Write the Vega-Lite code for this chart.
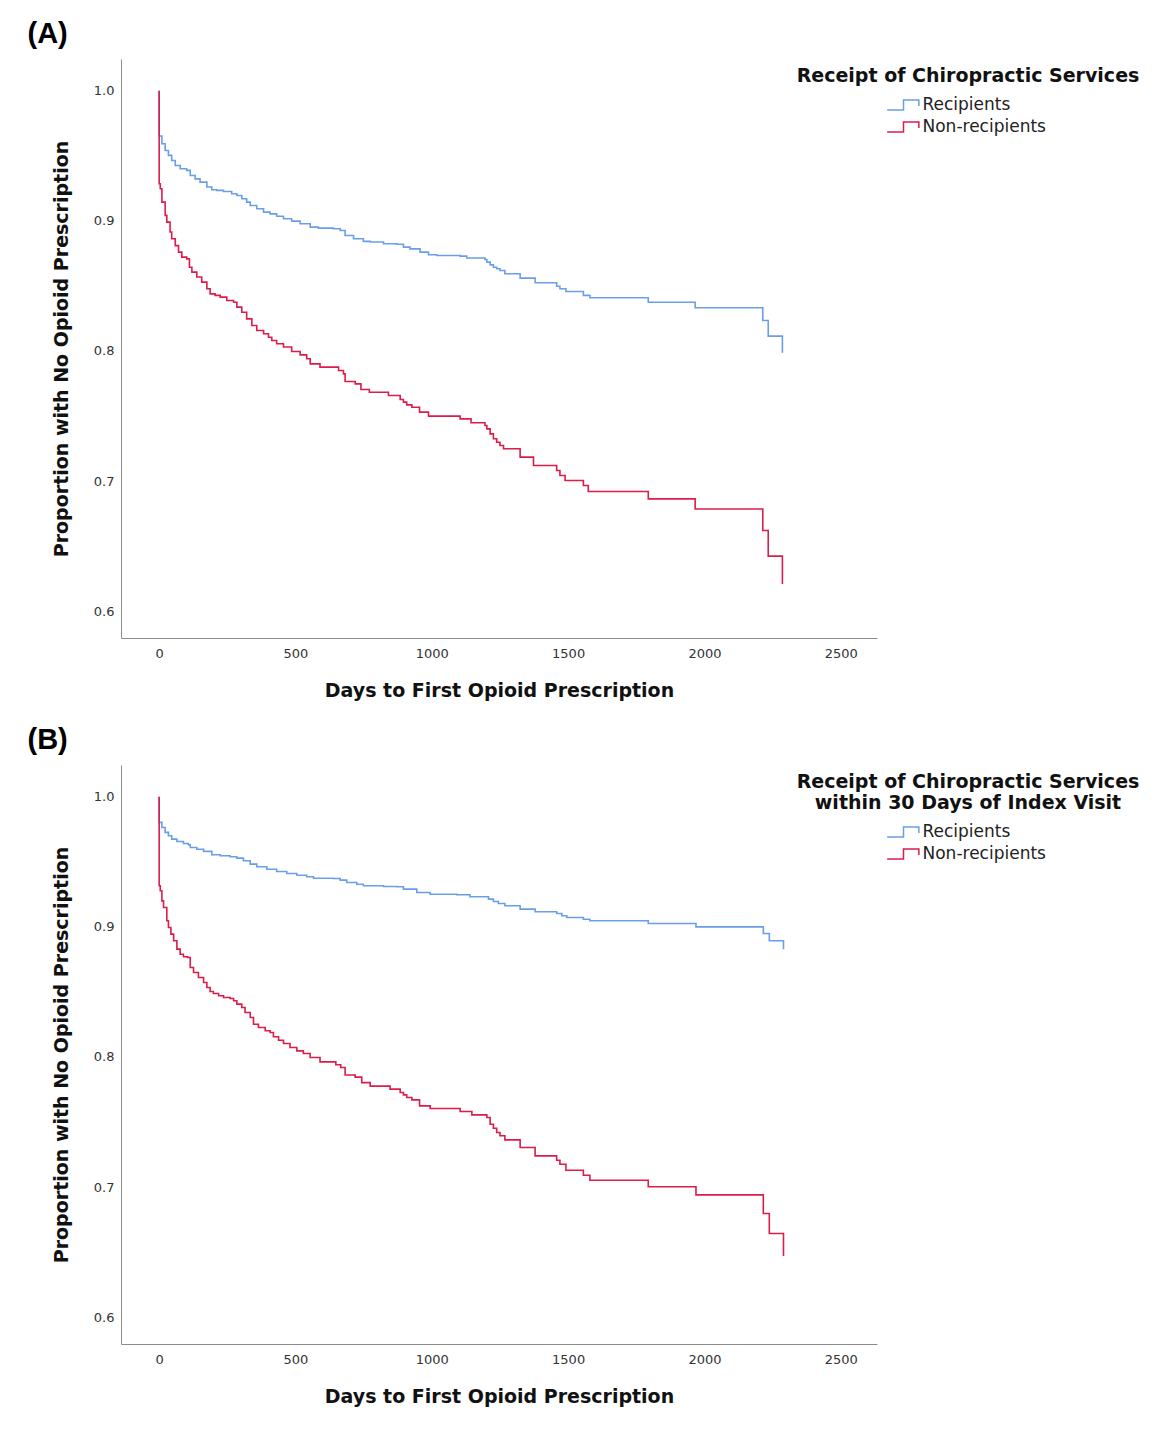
{
  "$schema": "https://vega.github.io/schema/vega-lite/v6.json",
  "padding": {"left": 27, "top": 20, "right": 5, "bottom": 5},
  "background": "white",
  "spacing": 26,
  "resolve": {"scale": {"color": "independent", "x": "independent", "y": "independent"}, "legend": {"color": "independent"}},
  "config": {
    "view": {"stroke": null},
    "font": "DejaVu Sans",
    "axis": {"domainColor": "#8c8c8c", "domainWidth": 1, "grid": false, "ticks": false, "labelFont": "DejaVu Sans", "labelFontSize": 13, "labelColor": "#333333", "titleFont": "DejaVu Sans", "titleFontSize": 19, "titleFontWeight": "bold", "titleColor": "#111111"},
    "legend": {"titleFont": "DejaVu Sans", "titleFontSize": 19, "titleFontWeight": "bold", "titleColor": "#111111", "titleAnchor": "middle", "titleAlign": "center", "titlePadding": 8, "titleLineHeight": 21, "titleLimit": 600, "labelFont": "DejaVu Sans", "labelFontSize": 17, "labelColor": "#222222", "labelLimit": 400, "symbolType": "M-1.585,0.5L0.05,0.5L0.05,-0.5L1.585,-0.5L1.585,0.1", "symbolSize": 400, "symbolStrokeWidth": 1.5, "symbolFillColor": "transparent", "symbolOffset": 1, "labelOffset": 8.5, "rowPadding": 3, "padding": 0, "offset": 0},
    "title": {"font": "Liberation Sans", "fontSize": 29, "fontWeight": "bold", "anchor": "start", "frame": "group", "dx": -93.5, "offset": 10, "color": "#000000"}
  },
  "datasets": {
    "a": [
      {"group": "Recipients", "day": 0, "p": 1.0},
      {"group": "Recipients", "day": 0, "p": 0.9652},
      {"group": "Recipients", "day": 10, "p": 0.9593},
      {"group": "Recipients", "day": 22, "p": 0.9541},
      {"group": "Recipients", "day": 34, "p": 0.9503},
      {"group": "Recipients", "day": 46, "p": 0.9464},
      {"group": "Recipients", "day": 59, "p": 0.9426},
      {"group": "Recipients", "day": 77, "p": 0.94},
      {"group": "Recipients", "day": 101, "p": 0.9388},
      {"group": "Recipients", "day": 114, "p": 0.9349},
      {"group": "Recipients", "day": 132, "p": 0.9323},
      {"group": "Recipients", "day": 150, "p": 0.9298},
      {"group": "Recipients", "day": 175, "p": 0.926},
      {"group": "Recipients", "day": 193, "p": 0.9239},
      {"group": "Recipients", "day": 211, "p": 0.9234},
      {"group": "Recipients", "day": 236, "p": 0.9226},
      {"group": "Recipients", "day": 266, "p": 0.9208},
      {"group": "Recipients", "day": 285, "p": 0.9195},
      {"group": "Recipients", "day": 303, "p": 0.917},
      {"group": "Recipients", "day": 321, "p": 0.9144},
      {"group": "Recipients", "day": 334, "p": 0.9118},
      {"group": "Recipients", "day": 358, "p": 0.9093},
      {"group": "Recipients", "day": 383, "p": 0.9067},
      {"group": "Recipients", "day": 407, "p": 0.9054},
      {"group": "Recipients", "day": 431, "p": 0.9036},
      {"group": "Recipients", "day": 456, "p": 0.9016},
      {"group": "Recipients", "day": 486, "p": 0.8998},
      {"group": "Recipients", "day": 517, "p": 0.8978},
      {"group": "Recipients", "day": 554, "p": 0.8952},
      {"group": "Recipients", "day": 584, "p": 0.8944},
      {"group": "Recipients", "day": 639, "p": 0.8939},
      {"group": "Recipients", "day": 664, "p": 0.8926},
      {"group": "Recipients", "day": 682, "p": 0.8888},
      {"group": "Recipients", "day": 713, "p": 0.8862},
      {"group": "Recipients", "day": 749, "p": 0.8842},
      {"group": "Recipients", "day": 774, "p": 0.8837},
      {"group": "Recipients", "day": 823, "p": 0.8824},
      {"group": "Recipients", "day": 872, "p": 0.882},
      {"group": "Recipients", "day": 896, "p": 0.8798},
      {"group": "Recipients", "day": 920, "p": 0.8785},
      {"group": "Recipients", "day": 957, "p": 0.876},
      {"group": "Recipients", "day": 988, "p": 0.8739},
      {"group": "Recipients", "day": 1018, "p": 0.8734},
      {"group": "Recipients", "day": 1104, "p": 0.8729},
      {"group": "Recipients", "day": 1128, "p": 0.8714},
      {"group": "Recipients", "day": 1195, "p": 0.8703},
      {"group": "Recipients", "day": 1202, "p": 0.8683},
      {"group": "Recipients", "day": 1214, "p": 0.8662},
      {"group": "Recipients", "day": 1226, "p": 0.8644},
      {"group": "Recipients", "day": 1238, "p": 0.8632},
      {"group": "Recipients", "day": 1250, "p": 0.8619},
      {"group": "Recipients", "day": 1268, "p": 0.8593},
      {"group": "Recipients", "day": 1324, "p": 0.856},
      {"group": "Recipients", "day": 1379, "p": 0.8524},
      {"group": "Recipients", "day": 1458, "p": 0.8498},
      {"group": "Recipients", "day": 1470, "p": 0.8478},
      {"group": "Recipients", "day": 1492, "p": 0.8457},
      {"group": "Recipients", "day": 1556, "p": 0.8427},
      {"group": "Recipients", "day": 1580, "p": 0.8409},
      {"group": "Recipients", "day": 1794, "p": 0.8375},
      {"group": "Recipients", "day": 1966, "p": 0.8332},
      {"group": "Recipients", "day": 2214, "p": 0.8234},
      {"group": "Recipients", "day": 2234, "p": 0.8114},
      {"group": "Recipients", "day": 2286, "p": 0.7986},
      {"group": "Non-recipients", "day": 0, "p": 1.0},
      {"group": "Non-recipients", "day": 0, "p": 0.9285},
      {"group": "Non-recipients", "day": 4, "p": 0.9247},
      {"group": "Non-recipients", "day": 10, "p": 0.9144},
      {"group": "Non-recipients", "day": 22, "p": 0.9042},
      {"group": "Non-recipients", "day": 28, "p": 0.899},
      {"group": "Non-recipients", "day": 40, "p": 0.8914},
      {"group": "Non-recipients", "day": 46, "p": 0.8862},
      {"group": "Non-recipients", "day": 59, "p": 0.881},
      {"group": "Non-recipients", "day": 71, "p": 0.876},
      {"group": "Non-recipients", "day": 83, "p": 0.8721},
      {"group": "Non-recipients", "day": 101, "p": 0.8708},
      {"group": "Non-recipients", "day": 111, "p": 0.8644},
      {"group": "Non-recipients", "day": 120, "p": 0.8606},
      {"group": "Non-recipients", "day": 138, "p": 0.8568},
      {"group": "Non-recipients", "day": 156, "p": 0.8529},
      {"group": "Non-recipients", "day": 175, "p": 0.8478},
      {"group": "Non-recipients", "day": 187, "p": 0.8439},
      {"group": "Non-recipients", "day": 205, "p": 0.8427},
      {"group": "Non-recipients", "day": 224, "p": 0.8414},
      {"group": "Non-recipients", "day": 248, "p": 0.8388},
      {"group": "Non-recipients", "day": 273, "p": 0.8375},
      {"group": "Non-recipients", "day": 285, "p": 0.8337},
      {"group": "Non-recipients", "day": 303, "p": 0.8298},
      {"group": "Non-recipients", "day": 321, "p": 0.8247},
      {"group": "Non-recipients", "day": 340, "p": 0.8196},
      {"group": "Non-recipients", "day": 358, "p": 0.8157},
      {"group": "Non-recipients", "day": 383, "p": 0.8132},
      {"group": "Non-recipients", "day": 401, "p": 0.8106},
      {"group": "Non-recipients", "day": 413, "p": 0.8081},
      {"group": "Non-recipients", "day": 431, "p": 0.8055},
      {"group": "Non-recipients", "day": 456, "p": 0.803},
      {"group": "Non-recipients", "day": 486, "p": 0.7996},
      {"group": "Non-recipients", "day": 517, "p": 0.797},
      {"group": "Non-recipients", "day": 541, "p": 0.794},
      {"group": "Non-recipients", "day": 554, "p": 0.7901},
      {"group": "Non-recipients", "day": 590, "p": 0.7876},
      {"group": "Non-recipients", "day": 658, "p": 0.785},
      {"group": "Non-recipients", "day": 676, "p": 0.7824},
      {"group": "Non-recipients", "day": 682, "p": 0.7765},
      {"group": "Non-recipients", "day": 719, "p": 0.7747},
      {"group": "Non-recipients", "day": 740, "p": 0.7704},
      {"group": "Non-recipients", "day": 771, "p": 0.7683},
      {"group": "Non-recipients", "day": 841, "p": 0.7658},
      {"group": "Non-recipients", "day": 884, "p": 0.7627},
      {"group": "Non-recipients", "day": 896, "p": 0.7607},
      {"group": "Non-recipients", "day": 908, "p": 0.7586},
      {"group": "Non-recipients", "day": 927, "p": 0.7568},
      {"group": "Non-recipients", "day": 955, "p": 0.753},
      {"group": "Non-recipients", "day": 988, "p": 0.7499},
      {"group": "Non-recipients", "day": 1104, "p": 0.7478},
      {"group": "Non-recipients", "day": 1144, "p": 0.7448},
      {"group": "Non-recipients", "day": 1195, "p": 0.7427},
      {"group": "Non-recipients", "day": 1202, "p": 0.7401},
      {"group": "Non-recipients", "day": 1214, "p": 0.7363},
      {"group": "Non-recipients", "day": 1226, "p": 0.7325},
      {"group": "Non-recipients", "day": 1238, "p": 0.7299},
      {"group": "Non-recipients", "day": 1250, "p": 0.7273},
      {"group": "Non-recipients", "day": 1263, "p": 0.7248},
      {"group": "Non-recipients", "day": 1324, "p": 0.7184},
      {"group": "Non-recipients", "day": 1373, "p": 0.712},
      {"group": "Non-recipients", "day": 1458, "p": 0.7081},
      {"group": "Non-recipients", "day": 1470, "p": 0.7043},
      {"group": "Non-recipients", "day": 1489, "p": 0.7004},
      {"group": "Non-recipients", "day": 1556, "p": 0.6966},
      {"group": "Non-recipients", "day": 1574, "p": 0.692},
      {"group": "Non-recipients", "day": 1794, "p": 0.6863},
      {"group": "Non-recipients", "day": 1966, "p": 0.6786},
      {"group": "Non-recipients", "day": 2214, "p": 0.662},
      {"group": "Non-recipients", "day": 2234, "p": 0.6423},
      {"group": "Non-recipients", "day": 2286, "p": 0.6209}
    ],
    "b": [
      {"group": "Recipients", "day": 0, "p": 1.0},
      {"group": "Recipients", "day": 0, "p": 0.9803},
      {"group": "Recipients", "day": 10, "p": 0.9764},
      {"group": "Recipients", "day": 22, "p": 0.9726},
      {"group": "Recipients", "day": 34, "p": 0.97},
      {"group": "Recipients", "day": 46, "p": 0.9674},
      {"group": "Recipients", "day": 65, "p": 0.9656},
      {"group": "Recipients", "day": 89, "p": 0.9641},
      {"group": "Recipients", "day": 107, "p": 0.9631},
      {"group": "Recipients", "day": 114, "p": 0.961},
      {"group": "Recipients", "day": 138, "p": 0.9597},
      {"group": "Recipients", "day": 163, "p": 0.958},
      {"group": "Recipients", "day": 193, "p": 0.9554},
      {"group": "Recipients", "day": 224, "p": 0.9546},
      {"group": "Recipients", "day": 260, "p": 0.9539},
      {"group": "Recipients", "day": 285, "p": 0.9528},
      {"group": "Recipients", "day": 309, "p": 0.9508},
      {"group": "Recipients", "day": 334, "p": 0.9482},
      {"group": "Recipients", "day": 358, "p": 0.9462},
      {"group": "Recipients", "day": 395, "p": 0.9443},
      {"group": "Recipients", "day": 431, "p": 0.9426},
      {"group": "Recipients", "day": 468, "p": 0.941},
      {"group": "Recipients", "day": 505, "p": 0.9397},
      {"group": "Recipients", "day": 541, "p": 0.9385},
      {"group": "Recipients", "day": 566, "p": 0.9374},
      {"group": "Recipients", "day": 639, "p": 0.9372},
      {"group": "Recipients", "day": 664, "p": 0.9359},
      {"group": "Recipients", "day": 688, "p": 0.9341},
      {"group": "Recipients", "day": 725, "p": 0.9328},
      {"group": "Recipients", "day": 749, "p": 0.9316},
      {"group": "Recipients", "day": 823, "p": 0.931},
      {"group": "Recipients", "day": 872, "p": 0.9308},
      {"group": "Recipients", "day": 896, "p": 0.929},
      {"group": "Recipients", "day": 945, "p": 0.9264},
      {"group": "Recipients", "day": 994, "p": 0.9251},
      {"group": "Recipients", "day": 1092, "p": 0.9247},
      {"group": "Recipients", "day": 1140, "p": 0.9231},
      {"group": "Recipients", "day": 1208, "p": 0.9213},
      {"group": "Recipients", "day": 1226, "p": 0.9195},
      {"group": "Recipients", "day": 1244, "p": 0.918},
      {"group": "Recipients", "day": 1268, "p": 0.9162},
      {"group": "Recipients", "day": 1324, "p": 0.9136},
      {"group": "Recipients", "day": 1379, "p": 0.9116},
      {"group": "Recipients", "day": 1458, "p": 0.9103},
      {"group": "Recipients", "day": 1477, "p": 0.9085},
      {"group": "Recipients", "day": 1495, "p": 0.9072},
      {"group": "Recipients", "day": 1556, "p": 0.9059},
      {"group": "Recipients", "day": 1580, "p": 0.9047},
      {"group": "Recipients", "day": 1794, "p": 0.9026},
      {"group": "Recipients", "day": 1969, "p": 0.9},
      {"group": "Recipients", "day": 2216, "p": 0.8949},
      {"group": "Recipients", "day": 2238, "p": 0.8893},
      {"group": "Recipients", "day": 2290, "p": 0.8828},
      {"group": "Non-recipients", "day": 0, "p": 1.0},
      {"group": "Non-recipients", "day": 0, "p": 0.9316},
      {"group": "Non-recipients", "day": 4, "p": 0.9277},
      {"group": "Non-recipients", "day": 10, "p": 0.92},
      {"group": "Non-recipients", "day": 16, "p": 0.9149},
      {"group": "Non-recipients", "day": 28, "p": 0.9047},
      {"group": "Non-recipients", "day": 34, "p": 0.8995},
      {"group": "Non-recipients", "day": 43, "p": 0.8944},
      {"group": "Non-recipients", "day": 53, "p": 0.8893},
      {"group": "Non-recipients", "day": 65, "p": 0.8829},
      {"group": "Non-recipients", "day": 77, "p": 0.879},
      {"group": "Non-recipients", "day": 89, "p": 0.877},
      {"group": "Non-recipients", "day": 104, "p": 0.8765},
      {"group": "Non-recipients", "day": 114, "p": 0.8688},
      {"group": "Non-recipients", "day": 126, "p": 0.8649},
      {"group": "Non-recipients", "day": 144, "p": 0.8611},
      {"group": "Non-recipients", "day": 163, "p": 0.8572},
      {"group": "Non-recipients", "day": 175, "p": 0.8534},
      {"group": "Non-recipients", "day": 187, "p": 0.8503},
      {"group": "Non-recipients", "day": 199, "p": 0.8488},
      {"group": "Non-recipients", "day": 218, "p": 0.847},
      {"group": "Non-recipients", "day": 236, "p": 0.8457},
      {"group": "Non-recipients", "day": 260, "p": 0.8449},
      {"group": "Non-recipients", "day": 273, "p": 0.8432},
      {"group": "Non-recipients", "day": 285, "p": 0.8406},
      {"group": "Non-recipients", "day": 303, "p": 0.838},
      {"group": "Non-recipients", "day": 315, "p": 0.8342},
      {"group": "Non-recipients", "day": 334, "p": 0.8303},
      {"group": "Non-recipients", "day": 346, "p": 0.8252},
      {"group": "Non-recipients", "day": 364, "p": 0.8226},
      {"group": "Non-recipients", "day": 389, "p": 0.8201},
      {"group": "Non-recipients", "day": 407, "p": 0.8188},
      {"group": "Non-recipients", "day": 419, "p": 0.8155},
      {"group": "Non-recipients", "day": 438, "p": 0.8129},
      {"group": "Non-recipients", "day": 456, "p": 0.8103},
      {"group": "Non-recipients", "day": 480, "p": 0.8073},
      {"group": "Non-recipients", "day": 505, "p": 0.8047},
      {"group": "Non-recipients", "day": 529, "p": 0.8027},
      {"group": "Non-recipients", "day": 554, "p": 0.7996},
      {"group": "Non-recipients", "day": 590, "p": 0.7962},
      {"group": "Non-recipients", "day": 648, "p": 0.794},
      {"group": "Non-recipients", "day": 666, "p": 0.7919},
      {"group": "Non-recipients", "day": 682, "p": 0.7862},
      {"group": "Non-recipients", "day": 719, "p": 0.7845},
      {"group": "Non-recipients", "day": 743, "p": 0.7803},
      {"group": "Non-recipients", "day": 774, "p": 0.7776},
      {"group": "Non-recipients", "day": 847, "p": 0.7753},
      {"group": "Non-recipients", "day": 884, "p": 0.7727},
      {"group": "Non-recipients", "day": 896, "p": 0.7709},
      {"group": "Non-recipients", "day": 908, "p": 0.7688},
      {"group": "Non-recipients", "day": 927, "p": 0.767},
      {"group": "Non-recipients", "day": 955, "p": 0.7624},
      {"group": "Non-recipients", "day": 994, "p": 0.7604},
      {"group": "Non-recipients", "day": 1104, "p": 0.7581},
      {"group": "Non-recipients", "day": 1147, "p": 0.7555},
      {"group": "Non-recipients", "day": 1202, "p": 0.7535},
      {"group": "Non-recipients", "day": 1214, "p": 0.7483},
      {"group": "Non-recipients", "day": 1226, "p": 0.7452},
      {"group": "Non-recipients", "day": 1238, "p": 0.7419},
      {"group": "Non-recipients", "day": 1250, "p": 0.7394},
      {"group": "Non-recipients", "day": 1268, "p": 0.7363},
      {"group": "Non-recipients", "day": 1324, "p": 0.7304},
      {"group": "Non-recipients", "day": 1379, "p": 0.724},
      {"group": "Non-recipients", "day": 1458, "p": 0.7206},
      {"group": "Non-recipients", "day": 1470, "p": 0.7175},
      {"group": "Non-recipients", "day": 1492, "p": 0.7129},
      {"group": "Non-recipients", "day": 1556, "p": 0.7091},
      {"group": "Non-recipients", "day": 1580, "p": 0.7052},
      {"group": "Non-recipients", "day": 1794, "p": 0.7002},
      {"group": "Non-recipients", "day": 1969, "p": 0.694},
      {"group": "Non-recipients", "day": 2216, "p": 0.6797},
      {"group": "Non-recipients", "day": 2238, "p": 0.6643},
      {"group": "Non-recipients", "day": 2290, "p": 0.6471}
    ]
  },
  "vconcat": [
    {
      "title": {"text": "(A)"},
      "width": 756,
      "height": 579,
      "data": {"name": "a"},
      "encoding": {
        "x": {"field": "day", "type": "quantitative", "scale": {"domain": [-140, 2633], "nice": false, "zero": false}, "axis": {"values": [0, 500, 1000, 1500, 2000, 2500], "format": "d", "title": "Days to First Opioid Prescription", "labelPadding": 9, "titlePadding": 21}},
        "y": {"field": "p", "type": "quantitative", "scale": {"domain": [0.5794, 1.0244], "nice": false, "zero": false}, "axis": {"values": [0.6, 0.7, 0.8, 0.9, 1.0], "format": ".1f", "title": "Proportion with No Opioid Prescription", "labelPadding": 7, "titlePadding": 22}},
        "color": {"field": "group", "type": "nominal", "scale": {"domain": ["Recipients", "Non-recipients"], "range": ["#6a9fe8", "#dc1c4a"]}, "legend": {"title": "Receipt of Chiropractic Services", "orient": "none", "legendX": 676, "legendY": 8}},
        "order": [{"field": "day", "type": "quantitative"}, {"field": "p", "type": "quantitative", "sort": "descending"}]
      },
      "layer": [
        {"transform": [{"filter": "datum.group === 'Recipients'"}], "mark": {"type": "line", "interpolate": "step-after", "strokeWidth": 1.6}},
        {"transform": [{"filter": "datum.group === 'Non-recipients'"}], "mark": {"type": "line", "interpolate": "step-after", "strokeWidth": 1.6}}
      ]
    },
    {
      "title": {"text": "(B)"},
      "width": 756,
      "height": 579,
      "data": {"name": "b"},
      "encoding": {
        "x": {"field": "day", "type": "quantitative", "scale": {"domain": [-140, 2633], "nice": false, "zero": false}, "axis": {"values": [0, 500, 1000, 1500, 2000, 2500], "format": "d", "title": "Days to First Opioid Prescription", "labelPadding": 9, "titlePadding": 21}},
        "y": {"field": "p", "type": "quantitative", "scale": {"domain": [0.5794, 1.0244], "nice": false, "zero": false}, "axis": {"values": [0.6, 0.7, 0.8, 0.9, 1.0], "format": ".1f", "title": "Proportion with No Opioid Prescription", "labelPadding": 7, "titlePadding": 22}},
        "color": {"field": "group", "type": "nominal", "scale": {"domain": ["Recipients", "Non-recipients"], "range": ["#6a9fe8", "#dc1c4a"]}, "legend": {"title": ["Receipt of Chiropractic Services", "within 30 Days of Index Visit"], "orient": "none", "legendX": 676, "legendY": 8}},
        "order": [{"field": "day", "type": "quantitative"}, {"field": "p", "type": "quantitative", "sort": "descending"}]
      },
      "layer": [
        {"transform": [{"filter": "datum.group === 'Recipients'"}], "mark": {"type": "line", "interpolate": "step-after", "strokeWidth": 1.6}},
        {"transform": [{"filter": "datum.group === 'Non-recipients'"}], "mark": {"type": "line", "interpolate": "step-after", "strokeWidth": 1.6}}
      ]
    }
  ]
}
